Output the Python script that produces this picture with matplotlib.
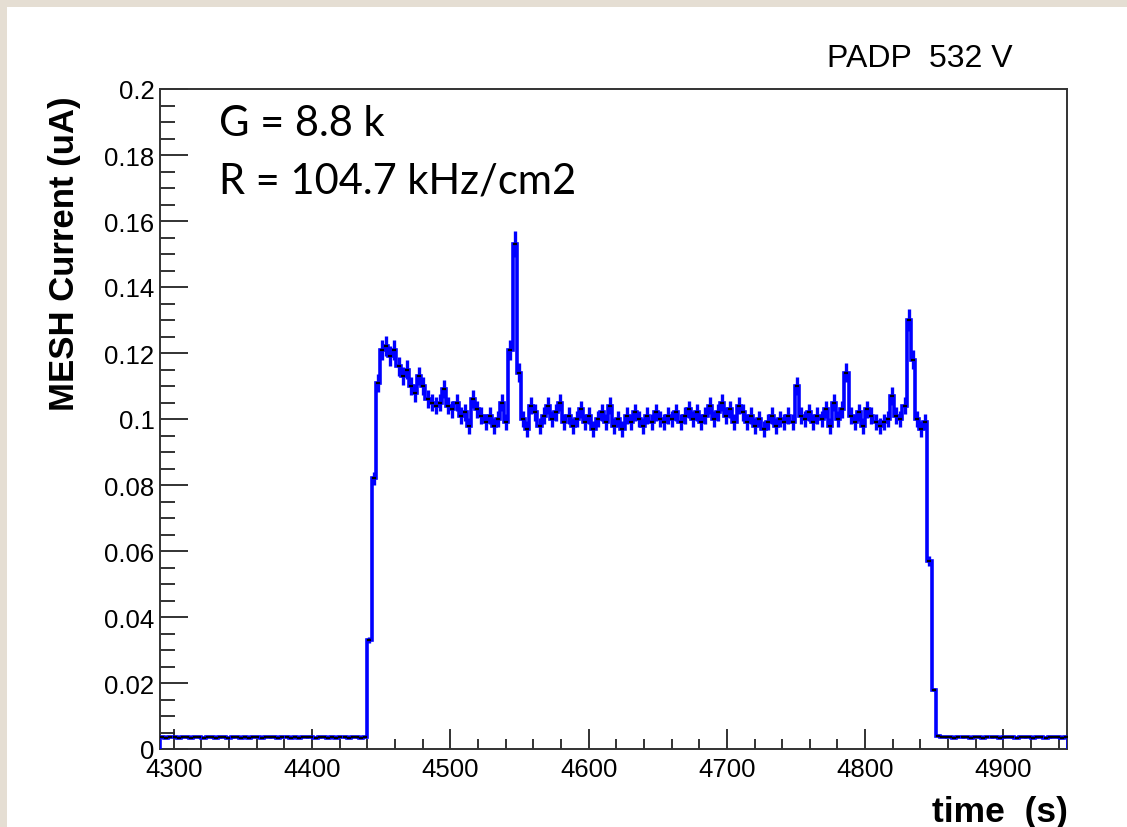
import matplotlib
matplotlib.use("Agg")
import matplotlib.pyplot as plt
import numpy as np
from matplotlib.patches import Rectangle

# ---------------- data ----------------
bin_start = 4290.0
bin_width = 3.0

baseline_before = [0.0036, 0.0034, 0.0037, 0.0035, 0.0033, 0.0036, 0.0035, 0.0034, 0.0036, 0.0035,
                   0.0034, 0.0037, 0.0035, 0.0033, 0.0035, 0.0036, 0.0034, 0.0035, 0.0037, 0.0034,
                   0.0035, 0.0033, 0.0036, 0.0035, 0.0034, 0.0036, 0.0035, 0.0037, 0.0034, 0.0035,
                   0.0036, 0.0033, 0.0035, 0.0034, 0.0036, 0.0035, 0.0037, 0.0034, 0.0035, 0.0036,
                   0.0034, 0.0035, 0.0033, 0.0036, 0.0035, 0.0034, 0.0036, 0.0035, 0.0034, 0.0035]

signal = [0.033, 0.082, 0.111, 0.121, 0.122, 0.119, 0.121, 0.116, 0.113, 0.115,
          0.110, 0.108, 0.113, 0.110, 0.106, 0.105, 0.104, 0.105, 0.109, 0.104,
          0.103, 0.105, 0.101, 0.102, 0.098, 0.106, 0.103, 0.101, 0.099, 0.101,
          0.098, 0.100, 0.105, 0.099, 0.121, 0.153, 0.114, 0.100, 0.097, 0.104,
          0.102, 0.098, 0.101, 0.104, 0.100, 0.102, 0.105, 0.099, 0.101, 0.098,
          0.100, 0.103, 0.099, 0.101, 0.097, 0.100, 0.102, 0.099, 0.104, 0.098,
          0.100, 0.097, 0.101, 0.099, 0.102, 0.100, 0.098, 0.101, 0.099, 0.102,
          0.100, 0.099, 0.101, 0.100, 0.102, 0.099, 0.101, 0.103, 0.100, 0.102,
          0.099, 0.101, 0.104, 0.100, 0.102, 0.105, 0.101, 0.103, 0.099, 0.104,
          0.102, 0.099, 0.101, 0.098, 0.100, 0.097, 0.099, 0.101, 0.098, 0.100,
          0.099, 0.101, 0.099, 0.110, 0.101, 0.100, 0.102, 0.099, 0.101, 0.100,
          0.103, 0.098, 0.105, 0.100, 0.103, 0.114, 0.101, 0.099, 0.102, 0.098,
          0.103, 0.101, 0.099, 0.098, 0.099, 0.100, 0.107, 0.101, 0.100, 0.104,
          0.130, 0.118, 0.100, 0.097, 0.099, 0.057, 0.018]

baseline_after = [0.0040, 0.0036, 0.0035, 0.0037, 0.0034, 0.0036, 0.0035, 0.0037, 0.0034, 0.0036,
                  0.0035, 0.0034, 0.0037, 0.0035, 0.0036, 0.0034, 0.0035, 0.0037, 0.0035, 0.0034,
                  0.0036, 0.0035, 0.0037, 0.0034, 0.0035, 0.0036, 0.0034, 0.0035, 0.0036, 0.0035,
                  0.0034, 0.0036]

xticks = [4300, 4400, 4500, 4600, 4700, 4800, 4900]
yticks = [0, 0.02, 0.04, 0.06, 0.08, 0.1, 0.12, 0.14, 0.16, 0.18, 0.2]
ytick_labels = ["0", "0.02", "0.04", "0.06", "0.08", "0.1", "0.12", "0.14", "0.16", "0.18", "0.2"]

# ---------------- figure ----------------
W, H = 1127, 828
fig = plt.figure(figsize=(W / 100, H / 100), dpi=100, facecolor="white")
beige = "#e5ded3"
fig.patches.append(Rectangle((0, 1 - 8 / H), 1, 8 / H, transform=fig.transFigure,
                             facecolor=beige, edgecolor="none", zorder=-10))
fig.patches.append(Rectangle((0, 0), 7 / W, 1, transform=fig.transFigure,
                             facecolor=beige, edgecolor="none", zorder=-10))

left, right, top, bottom = 160, 1067, 90, 750
ax = fig.add_axes([left / W, 1 - bottom / H, (right - left) / W, (bottom - top) / H])

values = np.array(baseline_before + signal + baseline_after)
edges = bin_start + bin_width * np.arange(len(values) + 1)
centers = 0.5 * (edges[:-1] + edges[1:])
errs = 0.025 * values

ax.errorbar(centers, values, yerr=errs, fmt="none", ecolor="#0000ff", elinewidth=2.4, zorder=2)
ax.stairs(values, edges, color="#0000ff", linewidth=2.6, zorder=3)
ax.plot(centers, values, ls="none", marker="_", color="black", ms=3.5, mew=1.6, zorder=4)

ax.set_xlim(4290, 4946)
ax.set_ylim(0, 0.2)

font = "Liberation Sans"
ax.set_xticks(xticks)
ax.set_xticklabels([str(t) for t in xticks], fontfamily=font, fontsize=18.5)
ax.set_xticks(np.arange(4300, 4946, 20), minor=True)
ax.set_yticks(yticks)
ax.set_yticklabels(ytick_labels, fontfamily=font, fontsize=18.5)
ax.set_yticks(np.arange(0, 0.2001, 0.005), minor=True)

ax.tick_params(axis="x", which="major", direction="in", length=14.4, width=1.3, pad=6, colors="#222222",
               labelcolor="black", top=False)
ax.tick_params(axis="x", which="minor", direction="in", length=7.2, width=1.3, colors="#222222", top=False)
ax.tick_params(axis="y", which="major", direction="in", length=20, width=1.3, pad=4, colors="#222222",
               labelcolor="black", right=False)
ax.tick_params(axis="y", which="minor", direction="in", length=10.8, width=1.3, colors="#222222", right=False)
for s in ax.spines.values():
    s.set_linewidth(1.4)
    s.set_color("#333333")

# titles
fig.text(65 / W, 1 - 96 / H, "MESH Current (uA)", rotation=90, ha="center", va="top",
         fontfamily=font, fontweight="bold", fontsize=25)
fig.text(1068 / W, 1 - 813 / H, "time  (s)", ha="right", va="center",
         fontfamily=font, fontweight="bold", fontsize=25.5)
fig.text(827 / W, 1 - 67 / H, "PADP  532 V", ha="left", va="baseline",
         fontfamily=font, fontsize=23)

fig.text(219 / W, 1 - 136 / H, "G = 8.8 k", ha="left", va="baseline", fontfamily="Lato", fontsize=30)
fig.text(219 / W, 1 - 193 / H, "R = 104.7 kHz/cm2", ha="left", va="baseline", fontfamily="Lato", fontsize=30)

fig.savefig("out.png", dpi=100, facecolor=fig.get_facecolor())
